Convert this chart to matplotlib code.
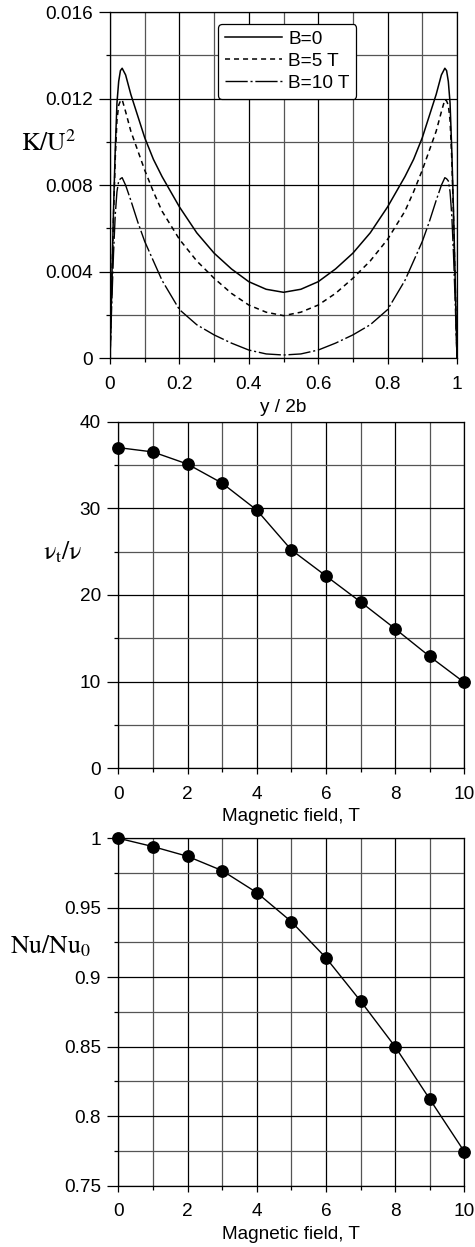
import numpy as np
import matplotlib.pyplot as plt
from matplotlib.ticker import MultipleLocator, FuncFormatter

plt.rcParams['font.family'] = ['Liberation Sans', 'DejaVu Sans']
plt.rcParams['mathtext.fontset'] = 'stix'
plt.rcParams['font.size'] = 13.7

# K/U^2 profiles across the channel
y_pos = [0, 0.005, 0.01, 0.015, 0.02, 0.025, 0.03, 0.035, 0.045, 0.06, 0.08, 0.1,
         0.125, 0.15, 0.2, 0.25, 0.3, 0.35, 0.4, 0.45, 0.5,
         0.55, 0.6, 0.65, 0.7, 0.75, 0.8, 0.85, 0.875, 0.9, 0.92, 0.94, 0.955,
         0.965, 0.97, 0.975, 0.98, 0.985, 0.99, 0.995, 1.0]
k_b0 = [0, 0.0035, 0.0068, 0.0096, 0.0118, 0.0128, 0.0133, 0.01341, 0.0131, 0.0122, 0.0112, 0.0102,
        0.0092, 0.0084, 0.0070, 0.0058, 0.00486, 0.00413, 0.00354, 0.00319, 0.00305,
        0.00319, 0.00354, 0.00413, 0.00486, 0.0058, 0.0070, 0.0084, 0.0092, 0.0102, 0.0112, 0.0122, 0.0131,
        0.01341, 0.0133, 0.0128, 0.0118, 0.0096, 0.0068, 0.0035, 0]
k_b5 = [0, 0.0033, 0.0065, 0.0092, 0.0110, 0.0117, 0.0119, 0.01196, 0.0114, 0.0105, 0.0096, 0.0087,
        0.0077, 0.0068, 0.0055, 0.0045, 0.0037, 0.0030, 0.00246, 0.00213, 0.00197,
        0.00213, 0.00246, 0.0030, 0.0037, 0.0045, 0.0055, 0.0068, 0.0077, 0.0087, 0.0096, 0.0105, 0.0114,
        0.01196, 0.0119, 0.0117, 0.0110, 0.0092, 0.0065, 0.0033, 0]
k_b10 = [0, 0.0025, 0.0048, 0.0066, 0.0077, 0.0082, 0.0083, 0.00835, 0.0080, 0.0073, 0.0063, 0.0054,
         0.0045, 0.0036, 0.00225, 0.00155, 0.00108, 0.0007, 0.00038, 0.0002, 0.00015,
         0.0002, 0.00038, 0.0007, 0.00108, 0.00155, 0.00225, 0.0036, 0.0045, 0.0054, 0.0063, 0.0073, 0.0080,
         0.00835, 0.0083, 0.0082, 0.0077, 0.0066, 0.0048, 0.0025, 0]

# eddy viscosity and Nusselt number vs magnetic field
field_t = [0, 1, 2, 3, 4, 5, 6, 7, 8, 9, 10]
nut_ratio = [37.0, 36.5, 35.1, 32.9, 29.8, 25.2, 22.2, 19.2, 16.1, 12.9, 9.9]
nu_ratio = [1.0, 0.994, 0.987, 0.9767, 0.9609, 0.940, 0.914, 0.8829, 0.850, 0.8123, 0.7745]

fmt = FuncFormatter(lambda v, p: '%g' % round(v, 6))


def style_axes(ax, xmaj, xmin, ymaj, ymin):
    ax.xaxis.set_major_locator(MultipleLocator(xmaj))
    ax.xaxis.set_minor_locator(MultipleLocator(xmin))
    ax.yaxis.set_major_locator(MultipleLocator(ymaj))
    ax.yaxis.set_minor_locator(MultipleLocator(ymin))
    ax.xaxis.set_major_formatter(fmt)
    ax.yaxis.set_major_formatter(fmt)
    ax.grid(True, which='major', color='black', lw=0.9)
    ax.grid(True, which='minor', color='#555555', lw=0.9)
    ax.tick_params(axis='x', which='major', direction='out', length=4.3, width=0.9, pad=8.5)
    ax.tick_params(axis='x', which='minor', direction='out', length=2.9, width=0.9)
    ax.tick_params(axis='y', which='major', direction='out', length=8, width=0.9, pad=4.5)
    ax.tick_params(axis='y', which='minor', direction='out', length=2.8, width=0.9)
    for s in ax.spines.values():
        s.set_linewidth(0.9)
    ax.set_axisbelow(True)


fig = plt.figure(figsize=(4.75, 12.47), dpi=100)
ax1 = fig.add_axes([0.2316, 0.7127, 0.7305, 0.2775])
ax2 = fig.add_axes([0.2491, 0.3839, 0.7284, 0.2780])
ax3 = fig.add_axes([0.2491, 0.0492, 0.7284, 0.2786])

# top panel: turbulent kinetic energy
ax1.plot(y_pos, k_b0, color='black', lw=1.1, label='B=0')
ax1.plot(y_pos, k_b5, color='black', lw=1.1, dashes=(3.3, 2.6), label='B=5 T')
ax1.plot(y_pos, k_b10, color='black', lw=1.0, dashes=(16, 2, 1.5, 2), label='B=10 T')
ax1.set_xlim(0, 1)
ax1.set_ylim(0, 0.016)
style_axes(ax1, 0.2, 0.1, 0.004, 0.002)
ax1.set_xlabel('y / 2b')
ax1.xaxis.set_label_coords(0.5, -0.142)
ax1.xaxis.label.set_va('center')
ax1.set_ylabel(r'$\mathrm{K/U^2}$', rotation=0, fontsize=18.5, ha='center', va='center')
ax1.yaxis.set_label_coords(-0.178, 0.622)
leg = ax1.legend(loc='upper left', bbox_to_anchor=(0.311, 0.966), borderaxespad=0,
                 handlelength=3.0, handletextpad=0.35, labelspacing=0.25,
                 borderpad=0.35, fancybox=True, framealpha=1, edgecolor='black',
                 fontsize=13.7)
leg.get_frame().set_linewidth(0.9)

# middle panel: eddy viscosity ratio
ax2.plot(field_t, nut_ratio, color='black', lw=1.0, marker='o', ms=8.2, clip_on=False)
ax2.set_xlim(0, 10)
ax2.set_ylim(0, 40)
style_axes(ax2, 2, 1, 10, 5)
ax2.set_xlabel('Magnetic field, T')
ax2.xaxis.set_label_coords(0.5, -0.140)
ax2.xaxis.label.set_va('center')
ax2.set_ylabel(r'$\mathrm{\nu_t/\nu}$', rotation=0, fontsize=18.5, ha='center', va='center')
ax2.yaxis.set_label_coords(-0.161, 0.623)

# bottom panel: Nusselt number ratio
ax3.plot(field_t, nu_ratio, color='black', lw=1.0, marker='o', ms=8.2, clip_on=False)
ax3.set_xlim(0, 10)
ax3.set_ylim(0.75, 1.0)
style_axes(ax3, 2, 1, 0.05, 0.025)
ax3.set_xlabel('Magnetic field, T')
ax3.xaxis.set_label_coords(0.5, -0.141)
ax3.xaxis.label.set_va('center')
ax3.set_ylabel(r'$\mathrm{Nu/Nu_0}$', rotation=0, fontsize=18.5, ha='center', va='center')
ax3.yaxis.set_label_coords(-0.197, 0.690)

fig.savefig('out.png', dpi=100)
